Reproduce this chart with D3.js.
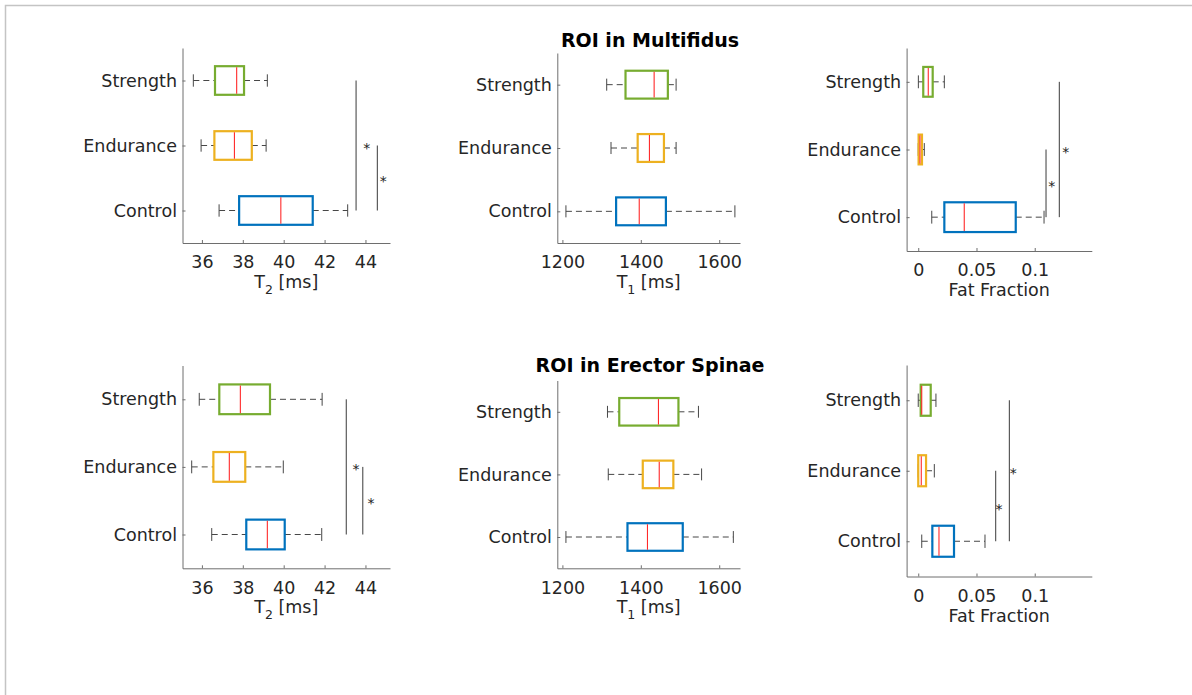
<!DOCTYPE html>
<html>
<head>
<meta charset="utf-8">
<script src="https://cdn.jsdelivr.net/npm/d3@7"></script>
<style>
  html, body { margin: 0; padding: 0; background: #fff; }
  svg { display: block; font-family: "DejaVu Sans", sans-serif; }
</style>
</head>
<body>
<svg id="chart" width="1192" height="695"></svg>
<script>
// Groups, bottom to top on each category axis
const groups = ["Control", "Endurance", "Strength"];
const groupColors = ["#0072BD", "#EDB120", "#77AC30"];

// Box statistics per group: [lower whisker, Q1, median, Q3, upper whisker]
// ROI in Multifidus
const mfT2 = [
  [36.84, 37.82, 39.86, 41.42, 43.13],
  [35.96, 36.61, 37.59, 38.44, 39.14],
  [35.58, 36.64, 37.70, 38.06, 39.20]
];
const mfT1 = [
  [1209, 1337, 1396, 1464, 1640],
  [1324, 1392, 1422, 1459, 1490],
  [1313, 1361, 1434, 1469, 1490]
];
const mfFF = [
  [0.0116, 0.0224, 0.0395, 0.0837, 0.1080],
  [0.0000, 0.0003, 0.0015, 0.0032, 0.0052],
  [0.0001, 0.0043, 0.0086, 0.0124, 0.0224]
];
// ROI in Erector Spinae
const esT2 = [
  [36.48, 38.17, 39.20, 40.05, 41.86],
  [35.50, 36.56, 37.34, 38.12, 39.98],
  [35.87, 36.85, 37.88, 39.33, 41.88]
];
const esT1 = [
  [1209, 1366, 1417, 1507, 1636],
  [1317, 1405, 1447, 1483, 1555],
  [1315, 1345, 1445, 1496, 1547]
];
const esFF = [
  [0.0030, 0.0121, 0.0178, 0.0307, 0.0573],
  [0.0000, 0.0000, 0.0026, 0.0067, 0.0138],
  [0.0000, 0.0021, 0.0030, 0.0107, 0.0152]
];

// Significance brackets: [from group, to group, bar position, star position]
const mfT2Sig = [[3, 1, 43.54, 44.06], [2, 1, 44.58, 44.87]];
const mfFFSig = [[2, 1, 0.1097, 0.1146], [3, 1, 0.1211, 0.1266]];
const esT2Sig = [[3, 1, 43.06, 43.54], [2, 1, 43.87, 44.27]];
const esFFSig = [[2, 1, 0.0665, 0.0694], [3, 1, 0.0782, 0.0816]];

// Axis ticks
const t2Ticks = [36, 38, 40, 42, 44];
const t1Ticks = [1200, 1400, 1600];
const ffTicks = [0, 0.05, 0.1];
const ffTickLabels = ["0", "0.05", "0.1"];

const titles = ["ROI in Multifidus", "ROI in Erector Spinae"];

const svg = d3.select("#chart");

// Figure frame
svg.append("path")
  .attr("d", "M5.5,695 V5.5 H1192")
  .attr("fill", "none")
  .attr("stroke", "#c4c4c4")
  .attr("stroke-width", 1.5);

const t2Label = ["T", "2", " [ms]"];
const t1Label = ["T", "1", " [ms]"];

const panels = [
  { stats: mfT2, sig: mfT2Sig, domain: [35.05, 45.2], ticks: t2Ticks, tickFmt: d => d, label: t2Label,
    box: { x0: 182.5, x1: 390, y0: 48, y1: 243 } },
  { stats: mfT1, sig: [], domain: [1187, 1653], ticks: t1Ticks, tickFmt: d => d, label: t1Label,
    box: { x0: 557.3, x1: 740, y0: 53, y1: 243 } },
  { stats: mfFF, sig: mfFFSig, domain: [-0.01, 0.149], ticks: ffTicks, tickFmt: (d, i) => ffTickLabels[i], label: ["Fat Fraction"],
    box: { x0: 906.6, x1: 1091.8, y0: 48, y1: 251 } },
  { stats: esT2, sig: esT2Sig, domain: [35.05, 45.2], ticks: t2Ticks, tickFmt: d => d, label: t2Label,
    box: { x0: 182.5, x1: 390, y0: 365.5, y1: 568.3 } },
  { stats: esT1, sig: [], domain: [1187, 1653], ticks: t1Ticks, tickFmt: d => d, label: t1Label,
    box: { x0: 557.3, x1: 740, y0: 380.5, y1: 568.3 } },
  { stats: esFF, sig: esFFSig, domain: [-0.01, 0.149], ticks: ffTicks, tickFmt: (d, i) => ffTickLabels[i], label: ["Fat Fraction"],
    box: { x0: 906.6, x1: 1091.8, y0: 365, y1: 576.5 } }
];

const axisColor = "#6e6e6e";
const textColor = "#262626";
const fontSize = 17.5;
const boxHeight = 0.44;   // in category units
const capHalf = 0.095;

panels.forEach(p => {
  const b = p.box;
  const x = d3.scaleLinear().domain(p.domain).range([b.x0, b.x1]);
  const y = d3.scaleLinear().domain([0.5, 3.5]).range([b.y1, b.y0]);
  const g = svg.append("g");

  // X axis (ticks pointing inward)
  const xAxis = g.append("g")
    .attr("transform", `translate(0,${b.y1})`)
    .call(d3.axisBottom(x).tickValues(p.ticks).tickFormat(p.tickFmt).tickSizeInner(-3).tickSizeOuter(0).tickPadding(9));
  xAxis.select(".domain").attr("stroke", axisColor).attr("stroke-width", 1);
  xAxis.selectAll(".tick line").attr("stroke", axisColor);
  xAxis.selectAll(".tick text")
    .attr("fill", textColor)
    .attr("font-size", fontSize)
    .attr("font-family", "DejaVu Sans, sans-serif")
    .attr("dy", "0.93em");

  // Y axis with group names
  const yAxis = g.append("g")
    .attr("transform", `translate(${b.x0},0)`)
    .call(d3.axisLeft(y).tickValues([1, 2, 3]).tickFormat(d => groups[d - 1]).tickSizeInner(-3).tickSizeOuter(0).tickPadding(5.5));
  yAxis.select(".domain").attr("stroke", axisColor).attr("stroke-width", 1);
  yAxis.selectAll(".tick line").attr("stroke", axisColor);
  yAxis.selectAll(".tick text")
    .attr("fill", textColor)
    .attr("font-size", fontSize)
    .attr("font-family", "DejaVu Sans, sans-serif");

  // Axis label
  const lab = g.append("text")
    .attr("x", (b.x0 + b.x1) / 2)
    .attr("y", b.y1 + 45)
    .attr("text-anchor", "middle")
    .attr("font-size", fontSize)
    .attr("fill", textColor);
  if (p.label.length === 3) {
    lab.append("tspan").text(p.label[0]);
    lab.append("tspan").attr("font-size", 12.5).attr("dy", 6).text(p.label[1]);
    lab.append("tspan").attr("dy", -6).text(p.label[2]);
  } else {
    lab.text(p.label[0]);
  }

  // Boxes
  p.stats.forEach((s, i) => {
    const cy = y(i + 1);
    const [wlo, q1, med, q3, whi] = s;
    const half = (y(0) - y(boxHeight)) / 2;
    const cap = y(0) - y(capHalf);
    const wg = g.append("g").attr("stroke", "#474747").attr("stroke-width", 1).attr("fill", "none");
    // whiskers
    wg.append("line").attr("x1", x(wlo)).attr("x2", x(q1)).attr("y1", cy).attr("y2", cy).attr("stroke-dasharray", "6,4");
    wg.append("line").attr("x1", x(q3)).attr("x2", x(whi)).attr("y1", cy).attr("y2", cy).attr("stroke-dasharray", "6,4");
    // caps
    wg.append("line").attr("x1", x(wlo)).attr("x2", x(wlo)).attr("y1", cy - cap).attr("y2", cy + cap);
    wg.append("line").attr("x1", x(whi)).attr("x2", x(whi)).attr("y1", cy - cap).attr("y2", cy + cap);
    // box
    g.append("rect")
      .attr("x", x(q1)).attr("y", cy - half)
      .attr("width", Math.max(0.5, x(q3) - x(q1))).attr("height", 2 * half)
      .attr("fill", "none")
      .attr("stroke", groupColors[i])
      .attr("stroke-width", 2.2);
    // median
    g.append("line")
      .attr("x1", x(med)).attr("x2", x(med))
      .attr("y1", cy - half + 1).attr("y2", cy + half - 1)
      .attr("stroke", "#ff2a2a").attr("stroke-width", 1.1);
  });

  // Significance brackets
  p.sig.forEach(([from, to, pos, starPos]) => {
    g.append("line")
      .attr("x1", x(pos)).attr("x2", x(pos))
      .attr("y1", y(from)).attr("y2", y(to))
      .attr("stroke", "#3a3a3a").attr("stroke-width", 1);
    g.append("text")
      .attr("x", x(starPos))
      .attr("y", y((from + to) / 2) + 7.5)
      .attr("text-anchor", "middle")
      .attr("font-size", 14)
      .attr("fill", "#222")
      .text("*");
  });
});

// Row titles
svg.append("text").attr("x", 650).attr("y", 46.5).attr("text-anchor", "middle")
  .attr("font-size", 19).attr("font-weight", "bold").attr("fill", "#000").text(titles[0]);
svg.append("text").attr("x", 650).attr("y", 372).attr("text-anchor", "middle")
  .attr("font-size", 19).attr("font-weight", "bold").attr("fill", "#000").text(titles[1]);
</script>
</body>
</html>
